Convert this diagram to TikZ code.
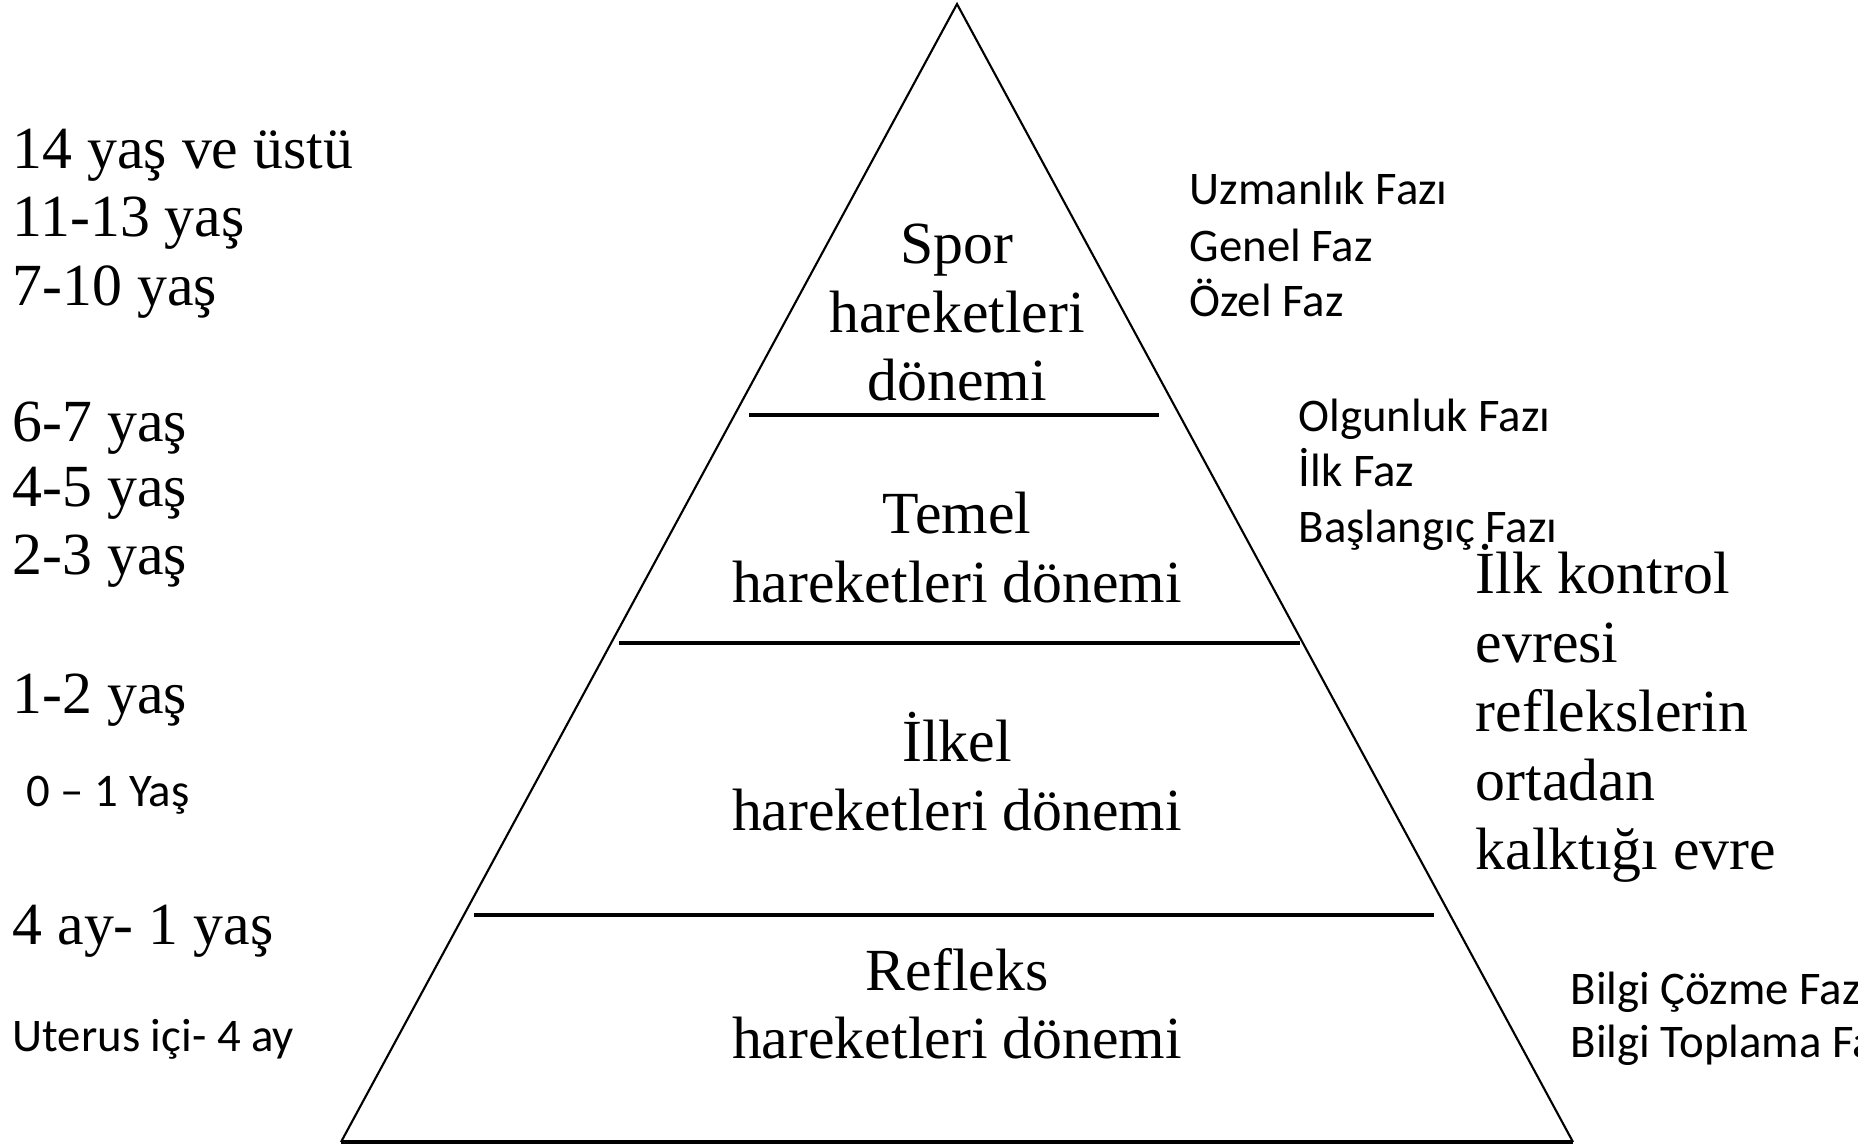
\documentclass[tikz,border=0pt]{standalone}
\usepackage{fontspec}
\setmainfont{Liberation Serif}
\newfontfamily\calfont{Carlito}
\usetikzlibrary{positioning}

\begin{document}
\begin{tikzpicture}[
      x=0.01cm, y=-0.01cm,
      tr/.style = {font=\fontsize{17}{20}\selectfont, inner sep=0pt},
      cb/.style = {font=\calfont\fontsize{13.3}{16}\selectfont, inner sep=0pt},
      ln/.style = {line width=0.6pt},
      sp/.style = {line width=0.9pt},
    ]
    \useasboundingbox (0,0) rectangle (1858,1147);
    \clip (0,0) rectangle (1858,1147);

    \coordinate (top) at (957,4);
    \coordinate (bl) at (341,1142);
    \coordinate (br) at (1573,1142);
    \draw[ln] (bl) -- (top) -- (br);
    \draw[sp] (bl) -- (br);
    \draw[sp] (749,415) -- (1159,415);
    \draw[sp] (619,643) -- (1300,643);
    \draw[sp] (474,915) -- (1434,915);

    \node[tr, anchor=base] (s1) at (957,263) {Spor};
    \node[tr, anchor=base] (s2) at (957,332) {hareketleri};
    \node[tr, anchor=base] (s3) at (957,400) {dönemi};
    \node[tr, anchor=base] (t1) at (957,533) {Temel};
    \node[tr, anchor=base] (t2) at (957,602) {hareketleri dönemi};
    \node[tr, anchor=base] (i1) at (957,761) {İlkel};
    \node[tr, anchor=base] (i2) at (957,830) {hareketleri dönemi};
    \node[tr, anchor=base] (r1) at (957,990) {Refleks};
    \node[tr, anchor=base] (r2) at (957,1058) {hareketleri dönemi};

    \node[tr, anchor=base west] (a1) at (12,168) {14 yaş ve üstü};
    \node[tr, anchor=base west] (a2) at (12,236) {11-13 yaş};
    \node[tr, anchor=base west] (a3) at (12,305) {7-10 yaş};
    \node[tr, anchor=base west] (a4) at (12,441) {6-7 yaş};
    \node[tr, anchor=base west] (a5) at (12,506) {4-5 yaş};
    \node[tr, anchor=base west] (a6) at (12,574) {2-3 yaş};
    \node[tr, anchor=base west] (a7) at (12,713) {1-2 yaş};
    \node[cb, anchor=base west] (a8) at (26,806) {0 – 1 Yaş};
    \node[tr, anchor=base west] (a9) at (12,944) {4 ay- 1 yaş};
    \node[cb, anchor=base west] (a10) at (12,1051) {Uterus içi- 4 ay};

    \node[cb, anchor=base west] (f1) at (1189,204) {Uzmanlık Fazı};
    \node[cb, anchor=base west] (f2) at (1189,261) {Genel Faz};
    \node[cb, anchor=base west] (f3) at (1189,316) {Özel Faz};
    \node[cb, anchor=base west] (g1) at (1298,431) {Olgunluk Fazı};
    \node[cb, anchor=base west] (g2) at (1298,486) {İlk Faz};
    \node[cb, anchor=base west] (g3) at (1298,542) {Başlangıç Fazı};
    \node[cb, anchor=base west] (b1) at (1570,1004) {Bilgi Çözme Fazı};
    \node[cb, anchor=base west] (b2) at (1570,1057) {Bilgi Toplama Fazı};

    \node[tr, anchor=base west] (k1) at (1475,593) {İlk kontrol};
    \node[tr, anchor=base west] (k2) at (1475,662) {evresi};
    \node[tr, anchor=base west] (k3) at (1475,731) {reflekslerin};
    \node[tr, anchor=base west] (k4) at (1475,800) {ortadan};
    \node[tr, anchor=base west] (k5) at (1475,869) {kalktığı evre};
  \end{tikzpicture}
\end{document}
